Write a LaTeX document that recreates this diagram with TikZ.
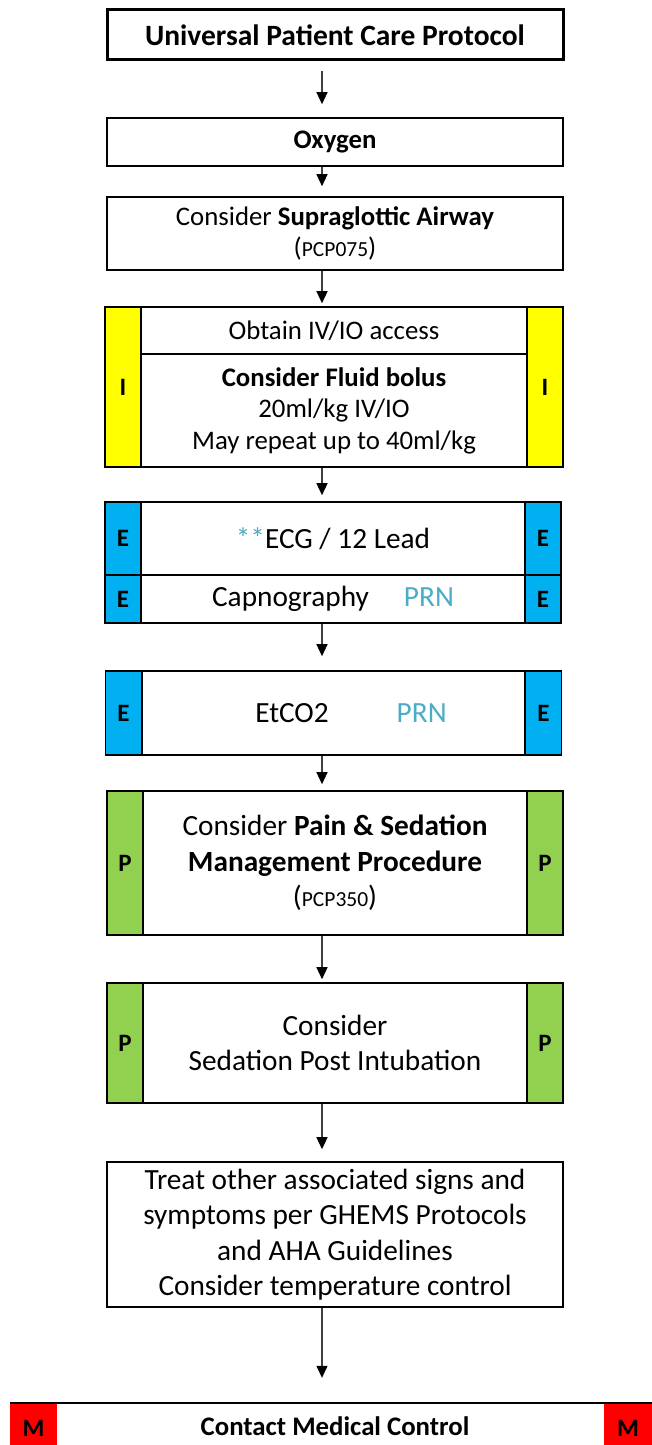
\documentclass[tikz,border=0pt]{standalone}
\usepackage{fontspec}
\setmainfont{Carlito}
\usetikzlibrary{arrows.meta,positioning,calc}
\definecolor{Ink}{HTML}{000000}
\definecolor{Wire}{HTML}{404040}
\definecolor{IvYellow}{HTML}{FFFF00}
\definecolor{EkgBlue}{HTML}{00B0F0}
\definecolor{PainGreen}{HTML}{92D050}
\definecolor{MedRed}{HTML}{FF0000}
\definecolor{Prn}{HTML}{4BACC6}
\newcommand{\pcp}[1]{{\fontsize{21.5}{25}\selectfont #1}}
\newcommand{\midfont}{\fontsize{26.8}{31.5}\selectfont}
\newcommand{\bigfont}{\fontsize{29.3}{35.5}\selectfont}
\tikzset{
  stagebox/.style={draw=Ink, line width=1.6pt, fill=white, minimum width=456pt, align=center, inner sep=0pt, font=\midfont},
  cellbox/.style={draw=Ink, line width=1.6pt, fill=white, align=center, inner sep=0pt, font=\midfont},
  sidetab/.style={draw=Ink, line width=1.6pt, minimum width=36pt, inner sep=0pt, font=\fontsize{25}{29}\selectfont\bfseries},
  flow/.style={draw=Wire, line width=1.3pt, -{Triangle[length=12pt,width=11pt,color=Ink]}},
}

\begin{document}
\begin{tikzpicture}[x=1pt,y=-1pt]
        \useasboundingbox (0,0) rectangle (652,1445);
        \clip (0,0) rectangle (652,1445);
        \coordinate (spine) at (322,0);
        % top of the protocol
        \node[stagebox, line width=3pt, minimum height=50pt, font=\fontsize{29.5}{34}\selectfont\bfseries] (upcp) at (335,35) {Universal Patient Care Protocol};
        \node[stagebox, minimum height=48pt, font=\midfont\bfseries] (oxygen) at (335,142) {Oxygen};
        \node[stagebox, minimum height=73pt] (sga) at (335,233.5) {Consider \textbf{Supraglottic Airway}\\(\pcp{PCP075})};
        % IV block
        \node[sidetab, fill=IvYellow, minimum height=160pt] (ivl) at (123,387) {I};
        \node[sidetab, fill=IvYellow, minimum height=160pt] (ivr) at (545,387) {I};
        \node[cellbox, minimum width=386pt, minimum height=47pt] (ivaccess) at (334,330.5) {Obtain IV/IO access};
        \node[cellbox, minimum width=386pt, minimum height=113pt] (ivfluid) at (334,410.5) {\textbf{Consider Fluid bolus}\\20ml/kg IV/IO\\May repeat up to 40ml/kg};
        % ECG block
        \node[sidetab, fill=EkgBlue, minimum height=73pt] (ecgl) at (123,538.5) {E};
        \node[sidetab, fill=EkgBlue, minimum height=48pt] (capl) at (123,599) {E};
        \node[sidetab, fill=EkgBlue, minimum height=73pt] (ecgr) at (543,538.5) {E};
        \node[sidetab, fill=EkgBlue, minimum height=48pt] (capr) at (543,599) {E};
        \node[cellbox, minimum width=384pt, minimum height=73pt, font=\bigfont] (ecg) at (333,538.5) {\textcolor{Prn}{**}ECG / 12 Lead};
        \node[cellbox, minimum width=384pt, minimum height=48pt, font=\bigfont] (capno) at (333,599) {Capnography\hspace{35pt}\textcolor{Prn}{PRN}};
        % EtCO2
        \node[sidetab, fill=EkgBlue, minimum height=84pt] (etcol) at (123.5,713) {E};
        \node[sidetab, fill=EkgBlue, minimum height=84pt] (etcor) at (543.5,713) {E};
        \node[cellbox, minimum width=383pt, minimum height=84pt] (etco) at (333.5,713) {};
        \node[font=\bigfont, inner sep=0pt] (etcotext) at (351,713) {EtCO2\hspace{68pt}\textcolor{Prn}{PRN}};
        % pain and sedation
        \node[sidetab, fill=PainGreen, minimum height=144pt] (painl) at (125,863) {P};
        \node[sidetab, fill=PainGreen, minimum height=144pt] (painr) at (545,863) {P};
        \node[cellbox, minimum width=384pt, minimum height=144pt, font=\bigfont] (painsed) at (335,863) {Consider \textbf{Pain \& Sedation}\\\textbf{Management Procedure}\\(\pcp{PCP350})};
        \node[sidetab, fill=PainGreen, minimum height=120pt] (sedl) at (125,1043) {P};
        \node[sidetab, fill=PainGreen, minimum height=120pt] (sedr) at (545,1043) {P};
        \node[cellbox, minimum width=384pt, minimum height=120pt, font=\bigfont] (sedpost) at (335,1043) {Consider\\Sedation Post Intubation};
        % other signs
        \node[stagebox, minimum height=145pt, font=\bigfont] (treat) at (335,1234.5) {Treat other associated signs and\\symptoms per GHEMS Protocols\\and AHA Guidelines\\Consider temperature control};
        % medical control
        \node[minimum width=642pt, minimum height=50pt, inner sep=0pt] (mcbox) at (331,1428) {};
        \node[sidetab, fill=MedRed, draw=none, minimum width=47pt, minimum height=50pt] (mcl) at (33.5,1428) {M};
        \node[sidetab, fill=MedRed, draw=none, minimum width=48pt, minimum height=50pt] (mcr) at (628,1428) {M};
        \draw[Ink, line width=1.6pt] (mcbox.north west) -- (mcbox.north east);
        \node[font=\midfont\bfseries, inner sep=0pt] (mctext) at (335,1426) {Contact Medical Control};
        % connectors
        \draw[flow, shorten <=10pt, shorten >=13pt] (upcp.south -| spine) -- (oxygen.north -| spine);
        \draw[flow, shorten >=10pt] (oxygen.south -| spine) -- (sga.north -| spine);
        \draw[flow, shorten >=3pt] (sga.south -| spine) -- (ivaccess.north -| spine);
        \draw[flow, shorten >=6pt] (ivfluid.south -| spine) -- (ecg.north -| spine);
        \draw[flow, shorten >=14pt] (capno.south -| spine) -- (etco.north -| spine);
        \draw[flow, shorten >=6pt] (etco.south -| spine) -- (painsed.north -| spine);
        \draw[flow, shorten >=3pt] (painsed.south -| spine) -- (sedpost.north -| spine);
        \draw[flow, shorten >=12pt] (sedpost.south -| spine) -- (treat.north -| spine);
        \draw[flow, shorten >=25pt] (treat.south -| spine) -- (mcbox.north -| spine);
      \end{tikzpicture}
\end{document}
